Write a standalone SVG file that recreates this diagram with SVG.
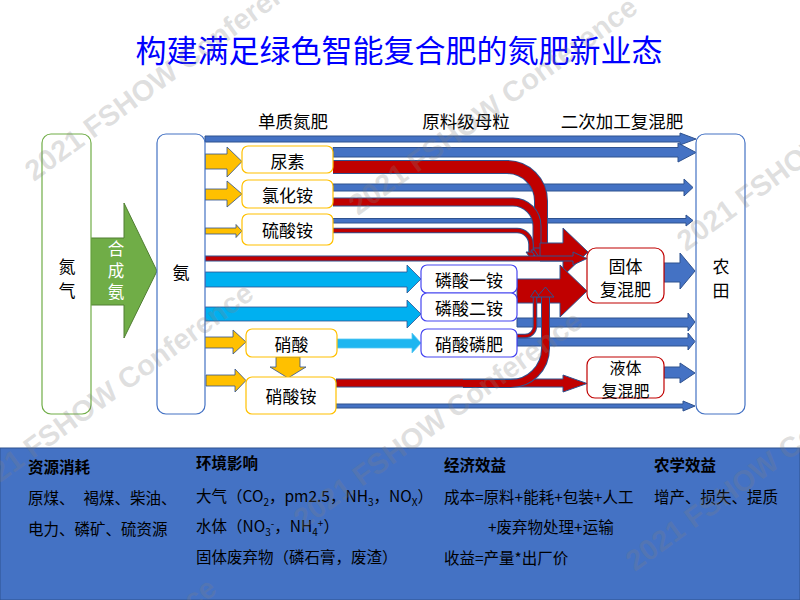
<svg xmlns="http://www.w3.org/2000/svg" width="800" height="600" viewBox="0 0 800 600">
<style>
text{font-family:"Noto Sans CJK SC","Noto Sans",sans-serif;fill:#000}
.t17{font-size:17px;text-anchor:middle;dominant-baseline:central}
.t16{font-size:16px;text-anchor:middle;dominant-baseline:central}
.lbl{font-size:17.5px;text-anchor:middle;dominant-baseline:central}
.b15{font-size:15.5px}
.bold{font-weight:bold}
.box-o{fill:#fff;stroke:#FFC000;stroke-width:1.2}
.box-b{fill:#fff;stroke:#4646F0;stroke-width:1.2}
.box-r{fill:#fff;stroke:#C00000;stroke-width:1.2}
.tall-b{fill:#fff;stroke:#4472C4;stroke-width:1.2}
.tall-g{fill:#fff;stroke:#70AD47;stroke-width:1.2}
.ora{fill:#FFC000;stroke:#2F528F;stroke-width:0.8}
.blu{fill:#4472C4;stroke:#2F528F;stroke-width:1}
.lbl-b{fill:#00B0F0;stroke:#2F528F;stroke-width:0.8}
.red{fill:#C00000;stroke:#2F528F;stroke-width:1}
.rOut{fill:none;stroke:#2F528F}
.rIn{fill:none;stroke:#C00000}
.wm{font-family:"Liberation Sans",Arial,sans-serif;font-weight:bold;font-size:29px;fill:#808080;fill-opacity:0.25}
</style>
<rect width="800" height="600" fill="#fff"/>
<text x="399" y="48" style="font-size:31px;fill:#0000FF;text-anchor:middle;dominant-baseline:central">构建满足绿色智能复合肥的氮肥新业态</text>
<text class="lbl" x="293" y="120">单质氮肥</text>
<text class="lbl" x="466" y="120">原料级母粒</text>
<text class="lbl" x="622" y="120">二次加工复混肥</text>

<g id="connectors">
  <polygon points="91,238 124,238 124,203 157,271 124,338 124,305 91,305" fill="#70AD47" stroke="#507E32" stroke-width="1"/>
  <polygon class="ora" points="205,154 227,154 227,147 242,161.5 227,177 227,169 205,169"/>
  <polygon class="ora" points="205,189 227,189 227,181 242,194 227,207 227,200 205,200"/>
  <polygon class="ora" points="205,228 236,228 236,224.5 242,231 236,237.5 236,234 205,234"/>
  <polygon class="ora" points="204,337 233,337 233,330 246,342 233,354 233,348 204,348"/>
  <polygon class="ora" points="206,375 235,375 235,369 246,380.5 235,392 235,386 206,386"/>
  <polygon class="ora" points="276,357 300,357 300,367 306,367 288,378 270,367 276,367"/>
  <polygon class="lbl-b" points="205,272 407,272 407,265 421,279 407,293 407,287 205,287"/>
  <polygon class="lbl-b" points="205,307 407,307 407,300 421,314 407,328 407,321 205,321"/>
  <polygon points="337,339 412,339 412,333 421,343 412,353 412,348 337,348" fill="#1DB6F0" stroke="#5CC8F2" stroke-width="0.8"/>
  <polygon class="blu" points="205,136 680,136 680,133 696,139 680,145 680,142 205,142"/>
  <polygon class="blu" points="333,147.5 678,147.5 678,143 696,152.5 678,162 678,157 333,157"/>
  <polygon class="blu" points="333,184 684,184 684,179 693,187.5 684,196 684,191 333,191"/>
  <polygon class="blu" points="333,218.5 686,218.5 686,215 693,220.5 686,226 686,223 333,223"/>
  <polygon class="blu" points="517,318 688,318 688,313 695,322 688,331 688,327 517,327"/>
  <polygon class="blu" points="517,338 688,338 688,333 695,341.5 688,350 688,346 517,346"/>
  <polygon class="blu" points="336,404 683,404 683,401 695,406 683,411 683,408 336,408"/>
  <polygon class="blu" points="664,263 680,263 680,253 695,271 680,289 680,282 664,282"/>
  <polygon class="blu" points="664,367 680,367 680,363 695,373 680,383 680,378 664,378"/>
  <polygon class="red" points="336,379 563,379 563,375 587,383.5 563,392 563,387 336,387"/>
  <path class="rOut" stroke-width="14" d="M333,167 H507 A34,34 0 0 1 541,201 V250"/>
  <path class="rIn" stroke-width="12" d="M333,167 H507 A34,34 0 0 1 541,201 V250"/>
  <path class="rOut" stroke-width="9" d="M333,202 H513 A24,24 0 0 1 537,226 V252"/>
  <path class="rIn" stroke-width="7" d="M333,202 H513 A24,24 0 0 1 537,226 V252"/>
  <path class="rOut" stroke-width="5.5" d="M333,230.5 H517 A14,14 0 0 1 531,244.5 V254"/>
  <path class="rIn" stroke-width="3.5" d="M333,230.5 H517 A14,14 0 0 1 531,244.5 V254"/>
  <polygon class="red" points="526,252 536,252 531,259"/>
  <polygon class="red" points="531,250 543,250 537,259"/>
  <polygon class="red" points="533,248 549,248 541,260"/>
  <polygon class="red" points="540,243 563,243 563,228 588,252 563,276 563,261 540,261"/>
  <polygon class="red" points="517,279 560,279 560,265 587,291 560,317 560,303 517,303"/>
  <polygon class="red" points="205,256 573,256 573,252 587,258.5 573,265 573,261 205,261"/>
  <path class="rOut" stroke-width="9" d="M463,383.5 H510 A35,35 0 0 0 545.5,348.5 V297"/>
  <path class="rIn" stroke-width="7" d="M463,383.5 H510 A35,35 0 0 0 545.5,348.5 V297"/>
  <polygon class="red" points="537,297 554,297 545.5,287"/>
  <path class="rOut" stroke-width="4.5" d="M517,336 H525 A10,10 0 0 0 535,326 V297"/>
  <path class="rIn" stroke-width="2.5" d="M517,336 H525 A10,10 0 0 0 535,326 V297"/>
  <polygon class="red" points="530.5,297 539.5,297 535,290"/>
</g>

<g id="n-nitrogen">
  <rect class="tall-g" x="42" y="134" width="49" height="280" rx="9"/>
  <text class="t17" x="67" y="265">氮<tspan x="67" dy="24">气</tspan></text>
</g>
<g id="n-synthesis">
  <text x="116" y="273" style="font-size:16.5px;fill:#fff;writing-mode:vertical-rl;text-anchor:middle;letter-spacing:5px">合成氨</text>
</g>
<g id="n-ammonia">
  <rect class="tall-b" x="157" y="134" width="48" height="280" rx="9"/>
  <text class="t17" x="181" y="271">氨</text>
</g>
<g id="n-field">
  <rect class="tall-b" x="696" y="134" width="49" height="280" rx="9"/>
  <text class="t17" x="721" y="265">农<tspan x="721" dy="24">田</tspan></text>
</g>
<g id="n-urea"><rect class="box-o" x="242" y="146" width="91" height="27" rx="6"/><text class="t17" x="287.5" y="160">尿素</text></g>
<g id="n-ammonium-chloride"><rect class="box-o" x="242" y="180" width="91" height="28" rx="6"/><text class="t17" x="287.5" y="194">氯化铵</text></g>
<g id="n-ammonium-sulfate"><rect class="box-o" x="242" y="214" width="91" height="31" rx="6"/><text class="t17" x="287.5" y="229.5">硫酸铵</text></g>
<g id="n-nitric-acid"><rect class="box-o" x="246" y="329" width="91" height="28" rx="6"/><text class="t17" x="291.5" y="343">硝酸</text></g>
<g id="n-ammonium-nitrate"><rect class="box-o" x="246" y="377" width="90" height="37" rx="6"/><text class="t17" x="291" y="395.5">硝酸铵</text></g>
<g id="n-map"><rect class="box-b" x="421" y="265" width="96" height="28" rx="6"/><text class="t17" x="469" y="279">磷酸一铵</text></g>
<g id="n-dap"><rect class="box-b" x="421" y="293" width="96" height="28" rx="6"/><text class="t17" x="469" y="307">磷酸二铵</text></g>
<g id="n-nitrophosphate"><rect class="box-b" x="421" y="329" width="96" height="28" rx="6"/><text class="t17" x="469" y="343">硝酸磷肥</text></g>
<g id="n-solid"><rect class="box-r" x="587" y="248" width="77" height="55" rx="9"/><text class="t17" x="625.5" y="265">固体<tspan x="625.5" dy="23">复混肥</tspan></text></g>
<g id="n-liquid"><rect class="box-r" x="587" y="357" width="77" height="41" rx="8"/><text class="t16" x="625.5" y="366.5">液体<tspan x="625.5" dy="23">复混肥</tspan></text></g>

<g id="panel">
  <rect x="0" y="448" width="800" height="152" fill="#4472C4" stroke="#2F528F" stroke-width="1"/>
  <text class="b15 bold" x="28" y="473">资源消耗</text>
  <text class="b15" x="28" y="504">原煤、<tspan dx="9">褐煤、柴油、</tspan></text>
  <text class="b15" x="28" y="535">电力、磷矿、硫资源</text>
  <text class="b15 bold" x="196" y="469">环境影响</text>
  <text class="b15" x="196" y="502">大气（CO<tspan font-size="10" dy="4">2</tspan><tspan dy="-4">，pm2.5，NH</tspan><tspan font-size="10" dy="4">3</tspan><tspan dy="-4">，NO</tspan><tspan font-size="10" dy="4">X</tspan><tspan dy="-4">）</tspan></text>
  <text class="b15" x="196" y="532">水体（NO<tspan font-size="10" dy="4">3</tspan><tspan font-size="10" dy="-9">-</tspan><tspan dy="5">，NH</tspan><tspan font-size="10" dy="4">4</tspan><tspan font-size="10" dy="-9">+</tspan><tspan dy="5">）</tspan></text>
  <text class="b15" x="196" y="563">固体废弃物（磷石膏，废渣）</text>
  <text class="b15 bold" x="444" y="471">经济效益</text>
  <text class="b15" x="444" y="503">成本=原料+能耗+包装+人工</text>
  <text class="b15" x="488" y="533">+废弃物处理+运输</text>
  <text class="b15" x="444" y="564">收益=产量*出厂价</text>
  <text class="b15 bold" x="654" y="471">农学效益</text>
  <text class="b15" x="654" y="503">增产、损失、提质</text>
</g>

<g id="watermark">
  <text class="wm" transform="translate(34,182) rotate(-36)">2021 FSHOW Conference</text>
  <text class="wm" transform="translate(-26,502) rotate(-36)">2021 FSHOW Conference</text>
  <text class="wm" transform="translate(303,530) rotate(-36)">2021 FSHOW Conference</text>
  <text class="wm" transform="translate(358,216) rotate(-36)">2021 FSHOW Conference</text>
  <text class="wm" transform="translate(686,252) rotate(-36)">2021 FSHOW Conference</text>
  <text class="wm" transform="translate(635,572) rotate(-36)">2021 FSHOW Conference</text>
  <text class="wm" transform="translate(-63,797) rotate(-36)">2021 FSHOW Conference</text>
</g>
</svg>
